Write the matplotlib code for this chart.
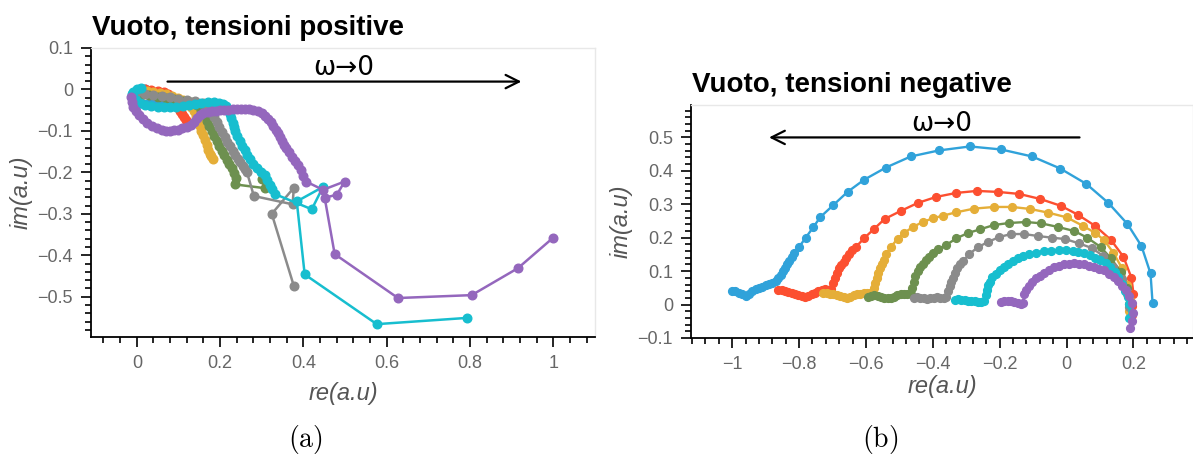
import numpy as np
import matplotlib
matplotlib.use('Agg')
import matplotlib.pyplot as plt
from matplotlib.ticker import MultipleLocator, FuncFormatter

plt.rcParams['font.family'] = ['Liberation Sans', 'DejaVu Sans']
plt.rcParams['mathtext.fontset'] = 'cm'

# series colours (holoviews default cycle)
colors = ['#30a2da', '#fc4f30', '#e5ae38', '#6d904f', '#8b8b8b', '#17becf', '#9467bd']

### (a) positive voltages: real / imaginary parts
pos_blue_re = [0.02, 0.01, 0.0, -0.005, -0.005, 0.0, 0.01, 0.025, 0.04, 0.055, 0.07, 0.085, 0.1]
pos_blue_im = [0.0, -0.002, -0.006, -0.012, -0.02, -0.027, -0.032, -0.034, -0.033, -0.03, -0.027, -0.024, -0.022]

pos_red_re = [0.02, 0.035, 0.05, 0.065, 0.075, 0.085, 0.092, 0.098, 0.104, 0.109, 0.114, 0.119]
pos_red_im = [0.0, -0.002, -0.004, -0.007, -0.012, -0.02, -0.032, -0.042, -0.051, -0.059, -0.066, -0.073]

pos_yellow_re = [0.01, 0.025, 0.04, 0.055, 0.07, 0.085, 0.1, 0.112, 0.122, 0.13, 0.137, 0.142,
                 0.146, 0.151, 0.155, 0.159, 0.164, 0.168, 0.172, 0.175, 0.179, 0.183]
pos_yellow_im = [-0.002, -0.004, -0.006, -0.009, -0.012, -0.016, -0.02, -0.026, -0.033, -0.042, -0.052, -0.063,
                 -0.075, -0.087, -0.099, -0.111, -0.123, -0.135, -0.147, -0.155, -0.161, -0.167]

pos_green_re = [0.0, 0.015, 0.03, 0.05, 0.07, 0.09, 0.11, 0.13, 0.145, 0.155, 0.162, 0.168, 0.174, 0.18,
                0.186, 0.192, 0.198, 0.204, 0.21, 0.216, 0.222, 0.228, 0.234, 0.238, 0.236, 0.307, 0.300]
pos_green_im = [-0.01, -0.012, -0.014, -0.017, -0.02, -0.023, -0.027, -0.031, -0.038, -0.05, -0.062, -0.075, -0.088, -0.1,
                -0.112, -0.124, -0.136, -0.148, -0.159, -0.169, -0.18, -0.19, -0.202, -0.214, -0.229, -0.238, -0.216]

pos_gray_re = [0.0, 0.02, 0.04, 0.06, 0.08, 0.1, 0.12, 0.14, 0.158, 0.172, 0.18, 0.186, 0.192, 0.198, 0.204,
               0.211, 0.217, 0.223, 0.23, 0.236, 0.242, 0.248, 0.254, 0.259, 0.264, 0.281, 0.374, 0.377, 0.324, 0.377]
pos_gray_im = [-0.006, -0.01, -0.013, -0.016, -0.019, -0.022, -0.025, -0.028, -0.033, -0.042, -0.055, -0.067, -0.078, -0.09, -0.102,
               -0.114, -0.126, -0.137, -0.148, -0.158, -0.167, -0.176, -0.185, -0.191, -0.198, -0.257, -0.277, -0.237, -0.30, -0.474]

pos_cyan_re = [0.01, 0.0, -0.008, -0.012, -0.01, -0.002, 0.007, 0.02, 0.035, 0.05, 0.065, 0.08, 0.095, 0.11, 0.125,
               0.14, 0.155, 0.17, 0.185, 0.198, 0.208, 0.215, 0.22, 0.224, 0.227, 0.23, 0.233, 0.236, 0.241, 0.247,
               0.253, 0.259, 0.265, 0.271, 0.279, 0.288, 0.298, 0.307, 0.313, 0.319, 0.325, 0.331, 0.42, 0.447,
               0.384, 0.403, 0.576, 0.792]
pos_cyan_im = [0.003, 0.0, -0.005, -0.012, -0.019, -0.026, -0.032, -0.037, -0.04, -0.042, -0.043, -0.043, -0.042, -0.04, -0.037,
               -0.034, -0.032, -0.031, -0.031, -0.032, -0.035, -0.041, -0.05, -0.06, -0.07, -0.08, -0.09, -0.101, -0.113, -0.125,
               -0.136, -0.147, -0.158, -0.168, -0.18, -0.19, -0.199, -0.207, -0.218, -0.23, -0.241, -0.252, -0.289, -0.235,
               -0.27, -0.446, -0.566, -0.551]

pos_purple_re = [-0.013, -0.012, -0.008, -0.002, 0.006, 0.015, 0.025, 0.036, 0.048, 0.06, 0.07, 0.079, 0.089, 0.098,
                 0.108, 0.12, 0.13, 0.138, 0.145, 0.152, 0.16, 0.17, 0.18, 0.19, 0.2, 0.21, 0.22, 0.23, 0.24, 0.25,
                 0.26, 0.27, 0.28, 0.29, 0.3, 0.308, 0.315, 0.321, 0.327, 0.333, 0.338, 0.343, 0.348, 0.353, 0.359,
                 0.365, 0.372, 0.379, 0.386, 0.393, 0.40, 0.406, 0.447, 0.499, 0.48, 0.451, 0.475, 0.627, 0.804,
                 0.915, 0.999]
pos_purple_im = [-0.017, -0.03, -0.042, -0.052, -0.062, -0.071, -0.08, -0.087, -0.093, -0.097, -0.099, -0.099, -0.098, -0.097,
                 -0.094, -0.09, -0.085, -0.078, -0.07, -0.062, -0.057, -0.054, -0.052, -0.051, -0.05, -0.05, -0.049, -0.048, -0.047, -0.046,
                 -0.046, -0.047, -0.049, -0.052, -0.057, -0.063, -0.071, -0.079, -0.088, -0.097, -0.106, -0.115, -0.124, -0.133, -0.142,
                 -0.152, -0.162, -0.172, -0.183, -0.195, -0.208, -0.222, -0.242, -0.222, -0.254, -0.261, -0.397, -0.503, -0.496,
                 -0.431, -0.358]

### (b) negative voltages: real / imaginary parts
neg_blue_re = [-1.0, -0.99, -0.98, -0.97, -0.96, -0.95, -0.94, -0.93, -0.92, -0.91, -0.90, -0.89, -0.88, -0.87,
               -0.862, -0.855, -0.848, -0.842, -0.836, -0.83, -0.822, -0.814, -0.80, -0.78, -0.757, -0.736, -0.697,
               -0.655, -0.606, -0.54, -0.466, -0.382, -0.289, -0.196, -0.103, -0.019, 0.059, 0.125, 0.182, 0.224,
               0.251, 0.257]
neg_blue_im = [0.042, 0.040, 0.036, 0.031, 0.027, 0.031, 0.040, 0.046, 0.050, 0.054, 0.058, 0.062, 0.066, 0.071,
               0.078, 0.088, 0.099, 0.110, 0.120, 0.130, 0.142, 0.153, 0.172, 0.200, 0.232, 0.262, 0.298,
               0.337, 0.373, 0.410, 0.443, 0.461, 0.473, 0.464, 0.443, 0.407, 0.361, 0.304, 0.241, 0.175,
               0.093, 0.006]

neg_red_re = [-0.862, -0.852, -0.842, -0.832, -0.822, -0.812, -0.802, -0.792, -0.782, -0.772, -0.762, -0.752, -0.742,
              -0.732, -0.722, -0.712, -0.704, -0.698, -0.692, -0.686, -0.680, -0.674, -0.667, -0.660, -0.652, -0.641,
              -0.63, -0.606, -0.577, -0.544, -0.496, -0.445, -0.39, -0.33, -0.268, -0.205, -0.142, -0.079, -0.016,
              0.035, 0.086, 0.133, 0.17, 0.194, 0.2, 0.197, 0.195]
neg_red_im = [0.045, 0.043, 0.040, 0.038, 0.035, 0.032, 0.030, 0.026, 0.022, 0.026, 0.031, 0.036, 0.040,
              0.044, 0.046, 0.045, 0.048, 0.065, 0.080, 0.095, 0.108, 0.118, 0.128, 0.140, 0.152, 0.162,
              0.172, 0.198, 0.225, 0.256, 0.280, 0.304, 0.322, 0.334, 0.340, 0.337, 0.331, 0.316, 0.295,
              0.268, 0.235, 0.193, 0.143, 0.080, 0.033, -0.005, -0.03]

neg_yellow_re = [-0.727, -0.717, -0.707, -0.697, -0.687, -0.677, -0.667, -0.657, -0.647, -0.637, -0.627, -0.617,
                 -0.607, -0.597, -0.587, -0.580, -0.576, -0.572, -0.568, -0.564, -0.559, -0.553, -0.547, -0.54,
                 -0.526, -0.505, -0.486, -0.46, -0.43, -0.40, -0.37, -0.33, -0.277, -0.217, -0.163, -0.109,
                 -0.055, 0.0, 0.05, 0.086, 0.112, 0.14, 0.165, 0.182, 0.19, 0.188]
neg_yellow_im = [0.035, 0.034, 0.033, 0.031, 0.029, 0.026, 0.022, 0.021, 0.024, 0.028, 0.031, 0.033,
                 0.034, 0.035, 0.036, 0.036, 0.05, 0.065, 0.08, 0.094, 0.108, 0.12, 0.132, 0.15,
                 0.172, 0.197, 0.214, 0.232, 0.247, 0.258, 0.266, 0.276, 0.287, 0.292, 0.292, 0.286,
                 0.275, 0.261, 0.235, 0.214, 0.193, 0.155, 0.11, 0.06, 0.015, -0.02]

neg_green_re = [-0.595, -0.585, -0.575, -0.565, -0.555, -0.545, -0.535, -0.526, -0.516, -0.506, -0.496, -0.486,
                -0.476, -0.466, -0.461, -0.457, -0.452, -0.445, -0.438, -0.43, -0.421, -0.412, -0.398, -0.385,
                -0.36, -0.33, -0.295, -0.259, -0.217, -0.172, -0.121, -0.076, -0.025, 0.023, 0.062, 0.102,
                0.133, 0.163, 0.182, 0.188]
neg_green_im = [0.024, 0.026, 0.028, 0.027, 0.024, 0.021, 0.020, 0.021, 0.024, 0.028, 0.031, 0.032,
                0.033, 0.033, 0.05, 0.068, 0.085, 0.10, 0.112, 0.122, 0.132, 0.142, 0.155, 0.166,
                0.178, 0.198, 0.214, 0.225, 0.238, 0.244, 0.247, 0.243, 0.232, 0.22, 0.2, 0.172,
                0.138, 0.097, 0.051, 0.003]

neg_gray_re = [-0.457, -0.447, -0.437, -0.427, -0.417, -0.407, -0.397, -0.387, -0.377, -0.367, -0.36, -0.355,
               -0.35, -0.345, -0.34, -0.334, -0.328, -0.32, -0.31, -0.292, -0.265, -0.235, -0.202, -0.166,
               -0.127, -0.085, -0.043, -0.004, 0.037, 0.076, 0.11, 0.14, 0.166, 0.181, 0.188]
neg_gray_im = [0.021, 0.022, 0.021, 0.019, 0.018, 0.019, 0.021, 0.022, 0.021, 0.021, 0.022, 0.04,
               0.055, 0.068, 0.08, 0.094, 0.108, 0.12, 0.13, 0.15, 0.172, 0.187, 0.202, 0.211,
               0.211, 0.205, 0.2, 0.196, 0.183, 0.169, 0.145, 0.112, 0.077, 0.033, -0.008]

neg_cyan_re = [-0.335, -0.325, -0.315, -0.305, -0.295, -0.285, -0.275, -0.265, -0.256, -0.247, -0.242, -0.238,
               -0.234, -0.229, -0.222, -0.211, -0.199, -0.187, -0.174, -0.16, -0.145, -0.13, -0.111, -0.091,
               -0.068, -0.046, -0.023, -0.001, 0.018, 0.035, 0.053, 0.071, 0.086, 0.101, 0.117, 0.131, 0.145,
               0.155, 0.166, 0.176, 0.183, 0.188, 0.188]
neg_cyan_im = [0.015, 0.016, 0.015, 0.014, 0.012, 0.011, 0.01, 0.008, 0.009, 0.012, 0.03, 0.045,
               0.058, 0.068, 0.081, 0.092, 0.102, 0.111, 0.12, 0.129, 0.138, 0.144, 0.15, 0.155,
               0.16, 0.161, 0.163, 0.162, 0.16, 0.157, 0.153, 0.148, 0.14, 0.132, 0.123, 0.112, 0.097,
               0.081, 0.062, 0.042, 0.022, 0.003, -0.04]

neg_purple_re = [-0.196, -0.186, -0.176, -0.166, -0.156, -0.146, -0.136, -0.13, -0.127, -0.12, -0.112, -0.102,
                 -0.091, -0.08, -0.067, -0.052, -0.037, -0.022, -0.007, 0.008, 0.023, 0.038, 0.053, 0.068,
                 0.083, 0.098, 0.113, 0.128, 0.143, 0.155, 0.166, 0.178, 0.188, 0.196, 0.2, 0.197, 0.191]
neg_purple_im = [0.009, 0.011, 0.012, 0.012, 0.009, 0.005, 0.003, 0.006, 0.033, 0.045, 0.057, 0.068,
                 0.078, 0.086, 0.093, 0.103, 0.111, 0.116, 0.12, 0.122, 0.123, 0.122, 0.12, 0.116,
                 0.111, 0.107, 0.102, 0.092, 0.081, 0.07, 0.057, 0.043, 0.027, 0.005, -0.024, -0.048, -0.069]

pos_series = [(pos_blue_re, pos_blue_im), (pos_red_re, pos_red_im), (pos_yellow_re, pos_yellow_im),
              (pos_green_re, pos_green_im), (pos_gray_re, pos_gray_im), (pos_cyan_re, pos_cyan_im),
              (pos_purple_re, pos_purple_im)]
neg_series = [(neg_blue_re, neg_blue_im), (neg_red_re, neg_red_im), (neg_yellow_re, neg_yellow_im),
              (neg_green_re, neg_green_im), (neg_gray_re, neg_gray_im), (neg_cyan_re, neg_cyan_im),
              (neg_purple_re, neg_purple_im)]


def ticklabel(v, pos):
    ### short tick labels with a real minus sign
    v = round(v, 6)
    if v == 0: return '0'
    return '{:g}'.format(v).replace('-', '\u2212')

def styleaxes(ax, xlim, ylim, xmajor, ymajor):
    ax.set_xlim(*xlim)
    ax.set_ylim(*ylim)
    ax.xaxis.set_major_locator(MultipleLocator(xmajor))
    ax.xaxis.set_minor_locator(MultipleLocator(xmajor/5))
    ax.yaxis.set_major_locator(MultipleLocator(ymajor))
    ax.yaxis.set_minor_locator(MultipleLocator(ymajor/5))
    ax.xaxis.set_major_formatter(FuncFormatter(ticklabel))
    ax.yaxis.set_major_formatter(FuncFormatter(ticklabel))
    ax.tick_params(which='both', direction='out', color='black', width=1.2)
    ax.tick_params(which='major', length=7, labelsize=13, labelcolor='#666666', pad=6)
    ax.tick_params(which='minor', length=4)
    for side in ['left', 'bottom']:
        ax.spines[side].set_color('black')
        ax.spines[side].set_linewidth(1.3)
    for side in ['top', 'right']:
        ax.spines[side].set_color('#e8e8e8')
        ax.spines[side].set_linewidth(1.0)
    ax.set_xlabel('re(a.u)', fontsize=17, style='italic', color='#555555')
    ax.set_ylabel('im(a.u)', fontsize=17, style='italic', color='#555555')


fig = plt.figure(figsize=(11.93, 4.55), dpi=100)
axa = fig.add_axes([91/1193, 118/455, 504/1193, 289/455])
axb = fig.add_axes([691/1193, 117/455, 502/1193, 233/455])

# left panel
for (re, im), c in zip(pos_series, colors):
    axa.plot(re, im, '-o', color=c, lw=1.8, ms=6.2, mec=c)
styleaxes(axa, (-0.11, 1.10), (-0.597, 0.1), 0.2, 0.1)
axa.xaxis.set_label_coords(0.5, -0.155)
axa.yaxis.set_label_coords(-0.116, 0.5)
axa.annotate('', xy=(0.93, 0.019), xytext=(0.067, 0.019),
             arrowprops=dict(arrowstyle='->', lw=1.6, color='black', mutation_scale=24))
axa.text(0.497, 0.02, '\u03c9\u21920', fontsize=19, family='DejaVu Sans',
         ha='center', va='bottom')

# right panel
for (re, im), c in zip(neg_series, colors):
    axb.plot(re, im, '-o', color=c, lw=1.7, ms=5.6, mec=c)
styleaxes(axb, (-1.123, 0.378), (-0.1, 0.597), 0.2, 0.1)
axb.xaxis.set_label_coords(0.5, -0.158)
axb.yaxis.set_label_coords(-0.116, 0.5)
axb.annotate('', xy=(-0.898, 0.5), xytext=(0.047, 0.5),
             arrowprops=dict(arrowstyle='->', lw=1.6, color='black', mutation_scale=24))
axb.text(-0.374, 0.502, '\u03c9\u21920', fontsize=19, family='DejaVu Sans',
         ha='center', va='bottom')

# panel titles
fig.text(92/1193, 1 - 35/455, 'Vuoto, tensioni positive', fontsize=20, fontweight='bold',
         ha='left', va='baseline')
fig.text(692/1193, 1 - 92/455, 'Vuoto, tensioni negative', fontsize=20, fontweight='bold',
         ha='left', va='baseline')

# sub-figure captions
fig.text(305/1193, 1 - 439/455, r'$\mathrm{(a)}$', fontsize=20, ha='center', va='center')
fig.text(880/1193, 1 - 439/455, r'$\mathrm{(b)}$', fontsize=20, ha='center', va='center')

fig.savefig('out.png', dpi=100)
